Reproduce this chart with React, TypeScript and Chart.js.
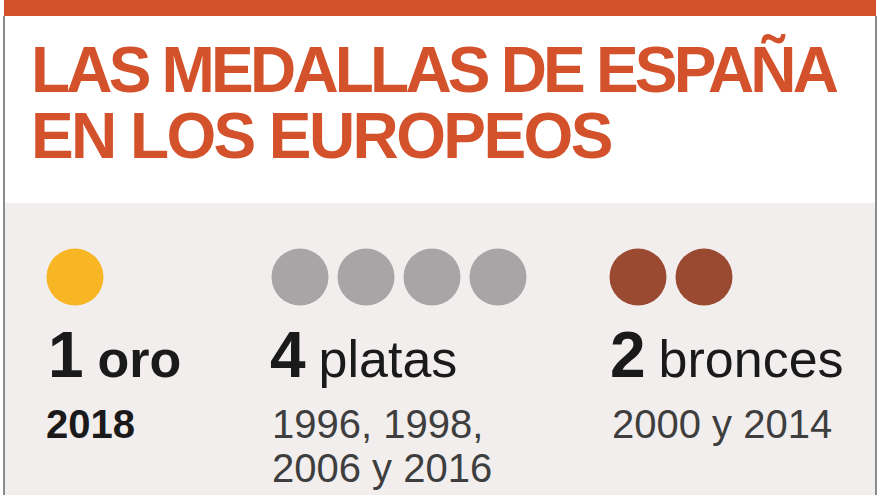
import React, { useEffect, useRef } from "react";
import { Chart, registerables } from "chart.js";

Chart.register(...registerables);

// ---- data ----
const titleLines = ["LAS MEDALLAS DE ESPAÑA", "EN LOS EUROPEOS"];
const medalTypes = ["oro", "platas", "bronces"];
const medalCounts = [1, 4, 2];
const medalYears = [["2018"], ["1996, 1998,", "2006 y 2016"], ["2000 y 2014"]];
const medalColors = ["#f8b624", "#a8a5a6", "#9a4a31"];

// ---- layout ----
const groupLeft = [48, 270, 610];
const yearsLeft = [46, 272, 612];
const groupCircleStart = [75, 300, 638];
const circleSpacing = 66;
const titleSpacing = ["-3.8px", "-2.6px"];
const FONT = "'Liberation Sans', Arial, Helvetica, sans-serif";

export default function App() {
  const ref = useRef<HTMLCanvasElement | null>(null);

  useEffect(() => {
    document.body.style.margin = "0";
    const ctx = ref.current!;
    const datasets = medalTypes.map((t, g) => ({
      label: t,
      data: Array.from({ length: medalCounts[g] }, (_, i) => ({
        x: groupCircleStart[g] + i * circleSpacing,
        y: 0,
      })),
      backgroundColor: medalColors[g],
      borderWidth: 0,
      pointRadius: 28.5,
      pointHoverRadius: 28.5,
    }));
    const chart = new Chart(ctx, {
      type: "scatter",
      data: { datasets },
      options: {
        animation: false,
        responsive: false,
        events: [],
        clip: false as any,
        layout: { padding: 0, autoPadding: false } as any,
        plugins: { legend: { display: false }, tooltip: { enabled: false } },
        scales: {
          x: { type: "linear", min: 0, max: 880, display: false },
          y: { type: "linear", min: -1, max: 1, display: false },
        },
      },
    });
    return () => chart.destroy();
  }, []);

  return (
    <div
      style={{
        position: "fixed",
        left: 0,
        top: 0,
        width: 880,
        height: 495,
        overflow: "hidden",
        background: "#ffffff",
        fontFamily: FONT,
      }}
    >
      <div style={{ position: "absolute", left: 4, top: 0, width: 872, height: 16, background: "#d4522b" }} />
      <div style={{ position: "absolute", left: 5, top: 203, width: 870, height: 292, background: "#f2eeee" }} />
      <div style={{ position: "absolute", left: 3, top: 16, width: 2, height: 479, background: "#8c8c8c" }} />
      <div style={{ position: "absolute", left: 875, top: 16, width: 2, height: 479, background: "#8c8c8c" }} />

      {titleLines.map((line, i) => (
        <div
          key={i}
          style={{
            position: "absolute",
            left: 31,
            top: 38 + i * 66,
            fontSize: 64,
            lineHeight: "64px",
            fontWeight: 700,
            letterSpacing: titleSpacing[i],
            color: "#d4522b",
            whiteSpace: "nowrap",
          }}
        >
          {line}
        </div>
      ))}

      <canvas
        ref={ref}
        width={880}
        height={74}
        style={{ position: "absolute", left: 0, top: 240, width: 880, height: 74 }}
      />

      {medalTypes.map((t, g) => (
        <div
          key={t}
          style={{
            position: "absolute",
            left: groupLeft[g],
            top: 323,
            fontSize: 64,
            lineHeight: "64px",
            whiteSpace: "nowrap",
            color: "#1a1a1a",
          }}
        >
          <span style={{ fontWeight: 700 }}>{medalCounts[g]}</span>
          <span
            style={{
              fontSize: 52,
              fontWeight: g === 0 ? 700 : 400,
              marginLeft: g === 0 ? 14 : 13,
            }}
          >
            {t}
          </span>
        </div>
      ))}

      {medalYears.map((lines, g) => (
        <div
          key={g}
          style={{
            position: "absolute",
            left: yearsLeft[g],
            top: 402,
            fontSize: 40,
            lineHeight: "44px",
            whiteSpace: "nowrap",
            fontWeight: g === 0 ? 700 : 400,
            color: g === 0 ? "#1a1a1a" : "#3e3e3e",
          }}
        >
          {lines.map((l, i) => (
            <div key={i}>{l}</div>
          ))}
        </div>
      ))}
    </div>
  );
}
